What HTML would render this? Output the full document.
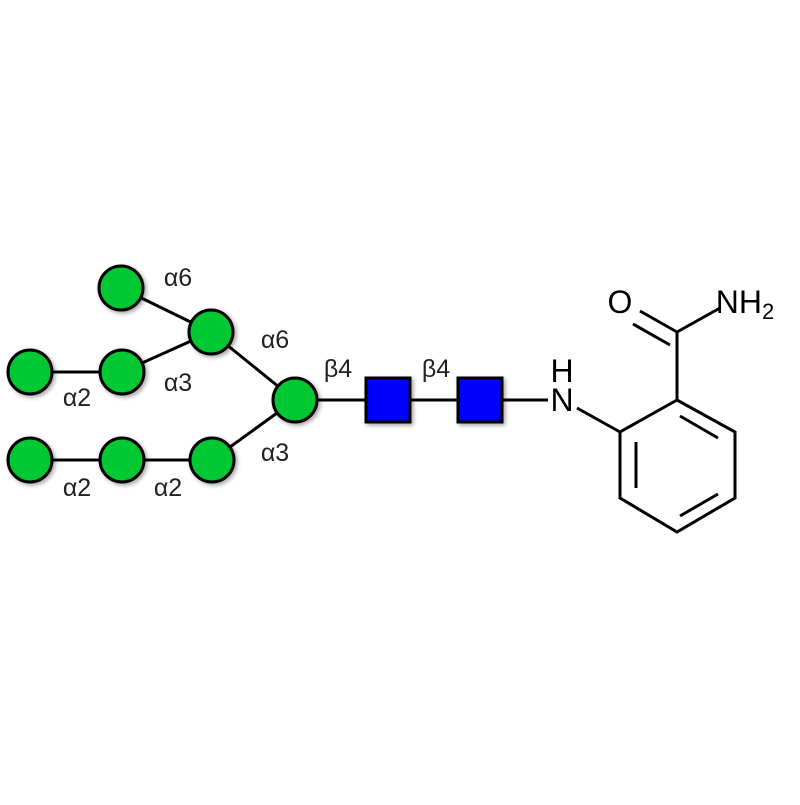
<!DOCTYPE html>
<html><head><style>html,body{margin:0;padding:0;background:#fff}</style></head><body>
<svg width="800" height="800" xmlns="http://www.w3.org/2000/svg" font-family="Liberation Sans, DejaVu Sans, sans-serif">
<defs><filter id="s" x="-50%" y="-50%" width="200%" height="200%"><feDropShadow dx="2" dy="2" stdDeviation="2" flood-color="#000" flood-opacity="0.35"/></filter></defs>
<g stroke="#000" stroke-width="3" fill="none">
<line x1="121" y1="288" x2="211" y2="332"/>
<line x1="122" y1="372" x2="211" y2="332"/>
<line x1="30" y1="372" x2="122" y2="372"/>
<line x1="211" y1="332" x2="295" y2="400"/>
<line x1="30" y1="460" x2="212" y2="460"/>
<line x1="212" y1="460" x2="295" y2="400"/>
<line x1="295" y1="400" x2="548" y2="400"/>
</g>
<g fill="#00c832" stroke="#000" stroke-width="3" filter="url(#s)">
<circle cx="121" cy="288" r="22"/><circle cx="211" cy="332" r="22"/>
<circle cx="30" cy="372" r="22"/><circle cx="122" cy="372" r="22"/>
<circle cx="295" cy="400" r="22"/>
<circle cx="30" cy="460" r="22"/><circle cx="122" cy="460" r="22"/><circle cx="212" cy="460" r="22"/>
</g>
<g fill="#0000ff" stroke="#000" stroke-width="3" filter="url(#s)">
<rect x="366" y="378" width="44" height="44"/><rect x="458" y="378" width="44" height="44"/>
</g>
<g font-size="25" fill="#222" text-anchor="middle" dominant-baseline="central">
<text x="178" y="278">α6</text><text x="275" y="340">α6</text>
<text x="178" y="383">α3</text><text x="77" y="398">α2</text>
<text x="275" y="453">α3</text><text x="77" y="488">α2</text><text x="168" y="488">α2</text>
<text x="338" y="369">β4</text><text x="436" y="369">β4</text>
</g>
<g stroke="#000" stroke-width="3" fill="none">
<polygon points="677,400 620,432 620,498 677,532 735,498 735,432"/>
<line x1="636" y1="442" x2="636" y2="488"/>
<line x1="680" y1="416" x2="718" y2="438"/>
<line x1="680" y1="516" x2="718" y2="494"/>
<line x1="577" y1="408" x2="620" y2="432"/>
<line x1="677" y1="400" x2="677" y2="332"/>
<line x1="677" y1="332" x2="720" y2="308"/>
<line x1="677" y1="332" x2="640" y2="311"/>
<line x1="670" y1="345" x2="633" y2="324"/>
</g>
<g font-size="32" fill="#000" text-anchor="middle" dominant-baseline="central">
<text x="562" y="400">N</text><text x="562" y="371">H</text>
<text x="620" y="302">O</text>
<text x="745" y="302">NH<tspan font-size="22" dy="9">2</tspan></text>
</g>
</svg>
</body></html>
